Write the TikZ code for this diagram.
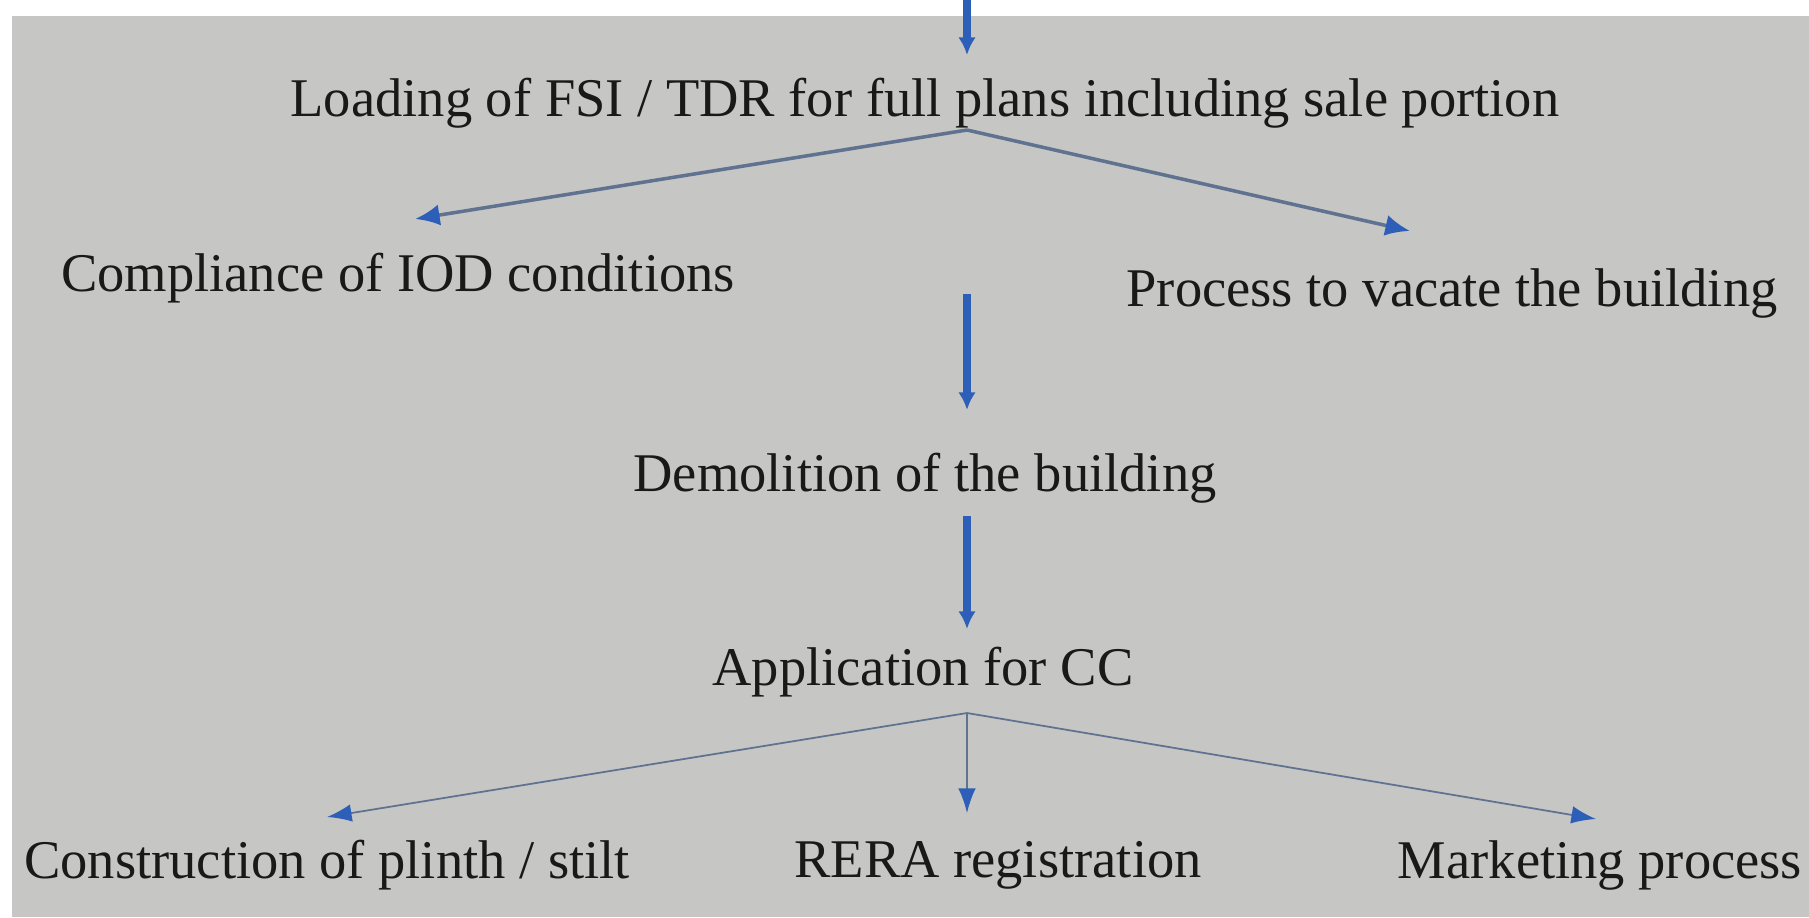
\documentclass[tikz,border=0pt]{standalone}
\usepackage{fontspec}
\setmainfont{Liberation Serif}
\usepackage{xcolor}
\usetikzlibrary{arrows.meta, positioning}

\definecolor{screengray}{RGB}{198,198,196}
\definecolor{arrowblue}{RGB}{45,95,185}
\definecolor{linegray}{RGB}{95,115,145}

\begin{document}
\begin{tikzpicture}[
    x=0.01cm, y=-0.01cm,
    % Styles
    step label/.style={font=\fontsize{15.5}{18}\selectfont, inner sep=2pt, text=black!90},
    mainarrow/.style={-{Latex[length=5pt, width=5pt]}, line width=2.2pt, color=arrowblue},
    branch/.style={-{Latex[length=7pt, width=6pt, color=arrowblue]}, line width=1pt, color=linegray},
    thinbranch/.style={-{Latex[length=7pt, width=5pt, color=arrowblue]}, line width=0.5pt, color=linegray}
]

% Screen background
\fill[white] (0,0) rectangle (1809,917);
\fill[screengray] (12,16) rectangle (1809,917);
\useasboundingbox (0,0) rectangle (1809,917);

% Steps
\node[step label] (loading) at (925,103) {Loading of FSI / TDR for full plans including sale portion};
\node[step label] (iod) at (398,278) {Compliance of IOD conditions};
\node[step label] (vacate) at (1452,293) {Process to vacate the building};
\node[step label] (demolition) at (925,478) {Demolition of the building};
\node[step label] (cc) at (923,672) {Application for CC};
\node[step label] (plinth) at (327,865) {Construction of plinth / stilt};
\node[step label] (rera) at (998,865) {RERA registration};
\node[step label] (marketing) at (1600,865) {Marketing process};

% Fork points
\coordinate (incoming) at (967,0);
\coordinate (fork top) at (967,130);
\coordinate (join) at (967,294);
\coordinate (fork cc) at (967,713);

% Arrows
\draw[mainarrow] (incoming) -- ([yshift=0.48cm]loading.center -| incoming);
\draw[branch] (fork top) -- ([xshift=0.17cm, yshift=0.59cm]iod.center);
\draw[branch] (fork top) -- ([xshift=-0.42cm, yshift=0.62cm]vacate.center);
\draw[mainarrow] (join) -- ([yshift=0.68cm]demolition.center -| join);
\draw[mainarrow] ([yshift=-0.38cm]demolition.center -| join) -- ([yshift=0.43cm]cc.center -| join);
\draw[thinbranch] (fork cc) -- ([yshift=0.48cm]plinth.center);
\draw[thinbranch] (fork cc) -- ([yshift=0.52cm]rera.center -| fork cc);
\draw[thinbranch] (fork cc) -- ([xshift=-0.04cm, yshift=0.46cm]marketing.center);

\end{tikzpicture}
\end{document}
